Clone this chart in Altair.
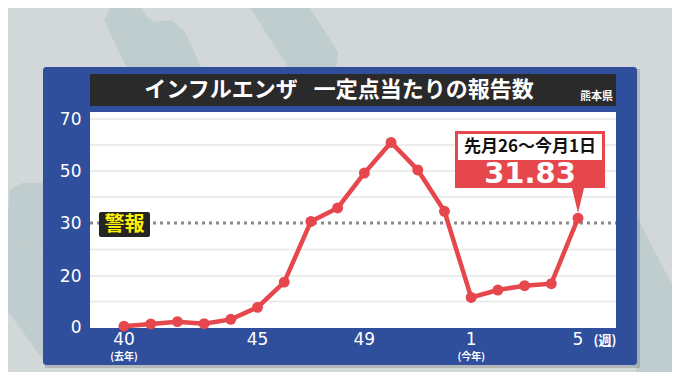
import altair as alt
import pandas as pd

# ---- data ----
weeks = ["40", "41", "42", "43", "44", "45", "46", "47", "48", "49", "50", "51", "52",
         "1", "2", "3", "4", "5"]
values = [0.3, 1.2, 2.1, 1.3, 3.0, 7.7, 17.6, 30.6, 35.8, 49.2, 61.0, 50.4, 34.5,
          11.6, 14.5, 16.2, 17.0, 31.83]
x_tick_idx = [0, 5, 9, 13, 17]
y_ticks = [0, 20, 30, 50, 70]
grid_values = [10, 20, 25, 40, 50, 60, 70]
alert_level = [30]
alert_label = "警報"
title_text = "インフルエンザ\u2002 一定点当たりの報告数"
region = "熊本県"
callout_period = "先月26～今月1日"
callout_value = "31.83"
year_notes = pd.DataFrame({"i": [0, 13], "t": ["(去年)", "(今年)"]})

df = pd.DataFrame({"i": list(range(len(weeks))), "week": weeks, "v": values})
xt = pd.DataFrame({"i": x_tick_idx, "t": [weeks[k] for k in x_tick_idx]})
one = pd.DataFrame({"a": [0]})

W, H = 526, 216
OX, OY = 90, 112  # plot origin in window pixels
RED = "#e5474d"
BLUE = "#2f4f9c"
DECO = "#c0cdce"
FONT_JP = "Noto Sans CJK JP"
FONT_NUM = "DejaVu Sans"

xscale = alt.Scale(domain=[0, len(weeks) - 1], range=[34, 488], zero=False, nice=False)
yscale = alt.Scale(domain=y_ticks, range=[215, 164, 111, 59, 7], zero=False, nice=False)

y_axis = alt.Axis(values=y_ticks, title=None, ticks=False, domain=False, grid=False,
                  labelFlush=False, labelOverlap=False, labelColor="white",
                  labelFontSize=17, labelFont=FONT_NUM, labelPadding=9, zindex=2)


def X(field):
    return alt.X(field, scale=xscale, axis=None)


def box(x, x2, y, y2, color, **kw):
    return alt.Chart(one).mark_rect(color=color, **kw).encode(
        x=alt.value(x), x2=alt.value(x2), y=alt.value(y), y2=alt.value(y2))


def label(text, x, y, size, color, font=FONT_JP, weight="bold", align="center"):
    return alt.Chart(one).mark_text(text=text, fontSize=size, color=color, font=font,
                                    fontWeight=weight, align=align, baseline="middle").encode(
        x=alt.value(x), y=alt.value(y))


def poly(points, color):
    """decorative background polygon given in window pixels"""
    xs = [p[0] for p in points]
    ys = [p[1] for p in points]
    cx, cy = (min(xs) + max(xs)) / 2, (min(ys) + max(ys)) / 2
    half = max(max(xs) - min(xs), max(ys) - min(ys)) / 2
    path = "M" + "L".join("%.4f,%.4f" % ((x - cx) / half, (y - cy) / half) for x, y in points) + "Z"
    return alt.Chart(one).mark_point(shape=path, filled=True, color=color, opacity=1,
                                     size=(2 * half) ** 2, strokeWidth=0).encode(
        x=alt.value(cx - OX), y=alt.value(cy - OY))


deco = [
    poly([(104, 20), (112, 6), (125, 1), (138, 4), (146, 16), (155, 22), (172, 20),
          (185, 32), (205, 75), (130, 75)], DECO),
    poly([(245, 0), (305, 0), (338, 52), (336, 70), (290, 70)], DECO),
    poly([(10, 190), (22, 183), (43, 183), (43, 250), (15, 245), (0, 258), (0, 300)], DECO),
    poly([(0, 258), (15, 245), (43, 250), (43, 360), (0, 300)], DECO),
    poly([(636, 215), (680, 300), (680, 390), (636, 390)], DECO),
]

shadow = box(-45, 550, -43, 256, "#000000", opacity=0.15)
panel = box(-47, 547, -45, 253, BLUE, cornerRadius=3)
title_bar = box(0, W, -38, -6, "#2a2a2a")
plot_bg = box(0, W, 0, H, "#ffffff")

grid = alt.Chart(pd.DataFrame({"g": grid_values})).mark_rule(
    color="#e6e6e6", strokeWidth=1.5).encode(
    y=alt.Y("g:Q", scale=yscale, axis=y_axis), x=alt.value(0), x2=alt.value(W))

alert = alt.Chart(pd.DataFrame({"g": alert_level})).mark_rule(
    color="#8a8a8a", strokeWidth=3, strokeDash=[3, 4]).encode(
    y=alt.Y("g:Q", scale=yscale, axis=y_axis), x=alt.value(0), x2=alt.value(W))

alert_box = box(9, 60, 100, 125, "#242424", cornerRadius=2)
alert_txt = label(alert_label, 34.5, 112.5, 20, "#fff200")

line = alt.Chart(df).mark_line(color=RED, strokeWidth=4.5).encode(
    x=X("i:Q"), y=alt.Y("v:Q", scale=yscale, axis=y_axis))
pts = alt.Chart(df).mark_circle(color=RED, size=120, opacity=1).encode(
    x=X("i:Q"), y=alt.Y("v:Q", scale=yscale, axis=y_axis))

x_labels = alt.Chart(xt).mark_text(fontSize=17, color="white", font=FONT_NUM,
                                   baseline="middle").encode(
    x=X("i:Q"), y=alt.value(228), text="t:N")
notes = alt.Chart(year_notes).mark_text(fontSize=10, color="white", font=FONT_JP,
                                        fontWeight="bold").encode(
    x=X("i:Q"), y=alt.value(245), text="t:N")
week_unit = label("(週)", 515, 229, 13, "white")

title = label(title_text, 249, -22, 22, "white")
region_txt = label(region, 490, -15, 11, "white", align="left")

pointer = alt.Chart(one).mark_point(shape="M-0.48,-1L0.48,-1L0,1Z", filled=True,
                                    color=RED, size=625, opacity=1).encode(
    x=alt.value(488), y=alt.value(88.5))
callout_red = box(365, 515, 19, 76, RED)
callout_white = box(368, 512, 22, 48, "#ffffff")
callout_t1 = label(callout_period, 440, 35, 17, "#111111")
callout_t2 = label(callout_value, 440, 62, 29, "white", font=FONT_NUM)

chart = alt.layer(
    *deco, shadow, panel, title_bar, plot_bg, grid, alert, line, pts, alert_box, alert_txt,
    x_labels, notes, week_unit, title, region_txt, pointer, callout_red, callout_white,
    callout_t1, callout_t2
).properties(
    width=W, height=H,
    padding={"left": 82, "top": 104, "right": 56, "bottom": 44},
    autosize=alt.AutoSizeParams(type="none"),
    background="#d2d7d8",
).configure_view(stroke=None)

chart.save("out.html", embed_options={"renderer": "svg", "actions": False})
